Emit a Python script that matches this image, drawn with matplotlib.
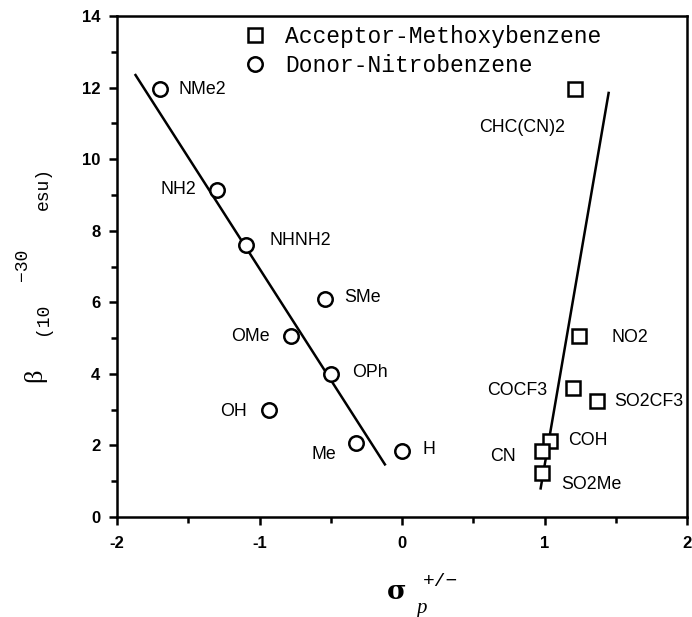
import matplotlib
matplotlib.use("Agg")
import matplotlib.pyplot as plt
from matplotlib.ticker import MultipleLocator, FixedLocator, FixedFormatter

# ---- data ----
donor_labels = ["NMe2", "NH2", "NHNH2", "SMe", "OMe", "OPh", "OH", "Me", "H"]
donor_sigma = [-1.70, -1.30, -1.095, -0.54, -0.78, -0.50, -0.93, -0.32, 0.00]
donor_beta = [11.96, 9.15, 7.59, 6.08, 5.06, 3.99, 2.98, 2.07, 1.84]

acceptor_labels = ["CHC(CN)2", "NO2", "COCF3", "SO2CF3", "COH", "CN", "SO2Me"]
acceptor_sigma = [1.215, 1.24, 1.20, 1.37, 1.04, 0.98, 0.985]
acceptor_beta = [11.95, 5.06, 3.61, 3.24, 2.12, 1.84, 1.24]

donor_fit_x = [-1.87, -0.12]
donor_fit_y = [12.35, 1.47]
acceptor_fit_x = [0.973, 1.45]
acceptor_fit_y = [0.80, 11.85]

x_ticks = [-2, -1, 0, 1, 2]
x_ticklabels = ["-2", "-1", "0", "1", "2"]
y_ticks = [0, 2, 4, 6, 8, 10, 12, 14]
y_ticklabels = ["0", "2", "4", "6", "8", "10", "12", "14"]

legend_labels = ["Acceptor-Methoxybenzene", "Donor-Nitrobenzene"]

# label placement (pixel offsets, alignment)
donor_offsets = [(19, 0, "left"), (-21, 0, "right"), (24, 5, "left"), (19, 2, "left"),
                 (-21, -1, "right"), (21, 2, "left"), (-23, -1, "right"),
                 (-20, -12, "right"), (20, 2, "left")]
acceptor_offsets = [(-53, -38, "center"), (33, -2, "left"), (-26, -3, "right"),
                    (17, 0, "left"), (18, 1, "left"), (-26, -5, "right"), (19, -12, "left")]

W, H = 692, 617
fig = plt.figure(figsize=(W / 100, H / 100), dpi=100)
ax = fig.add_axes([117 / W, 1 - 517 / H, 570 / W, 501 / H])

lw = 1.8
ms = 10.4
mew = 1.8

ax.plot(donor_fit_x, donor_fit_y, color="black", lw=lw)
ax.plot(acceptor_fit_x, acceptor_fit_y, color="black", lw=lw)
sq, = ax.plot(acceptor_sigma, acceptor_beta, ls="none", marker="s", ms=ms, mew=mew,
              mfc="white", mec="black", label=legend_labels[0])
ci, = ax.plot(donor_sigma, donor_beta, ls="none", marker="o", ms=ms, mew=mew,
              mfc="white", mec="black", label=legend_labels[1])

lab_font = dict(family="Liberation Sans", fontsize=12.8, color="black")
for lab, x, y, (dx, dy, ha) in zip(donor_labels, donor_sigma, donor_beta, donor_offsets):
    ax.annotate(lab, (x, y), xytext=(dx, dy), textcoords="offset pixels",
                ha=ha, va="center", **lab_font)
for lab, x, y, (dx, dy, ha) in zip(acceptor_labels, acceptor_sigma, acceptor_beta, acceptor_offsets):
    ax.annotate(lab, (x, y), xytext=(dx, dy), textcoords="offset pixels",
                ha=ha, va="center", **lab_font)

ax.set_xlim(-2, 2)
ax.set_ylim(0, 14)
ax.xaxis.set_major_locator(FixedLocator(x_ticks))
ax.xaxis.set_major_formatter(FixedFormatter(x_ticklabels))
ax.yaxis.set_major_locator(FixedLocator(y_ticks))
ax.yaxis.set_major_formatter(FixedFormatter(y_ticklabels))
ax.xaxis.set_minor_locator(MultipleLocator(0.5))
ax.yaxis.set_minor_locator(MultipleLocator(1))
ax.tick_params(which="major", direction="out", length=6, width=1.8)
ax.tick_params(which="minor", direction="out", length=4, width=1.8)
ax.tick_params(axis="x", which="major", pad=8)
ax.tick_params(axis="y", which="major", pad=6)
for t in ax.get_xticklabels() + ax.get_yticklabels():
    t.set_fontfamily("Liberation Sans")
    t.set_fontweight("bold")
    t.set_fontsize(12)
for s in ax.spines.values():
    s.set_linewidth(1.8)

leg = ax.legend(handles=[sq, ci], loc="upper left", bbox_to_anchor=(0.222, 0.982),
                frameon=False, borderpad=0, borderaxespad=0, handlelength=1.0,
                handletextpad=0.8, labelspacing=0.26,
                prop=dict(family="Liberation Mono", size=16.5))

# x label pieces
fig.text(396.7 / W, 1 - 591.7 / H, "σ", family="DejaVu Serif", fontweight="bold",
         fontsize=19, ha="center", va="center")
fig.text(440 / W, 1 - 581 / H, "+/\u2212", family="Liberation Mono", fontsize=14,
         ha="center", va="center")
fig.text(421.7 / W, 1 - 609 / H, "p", family="Liberation Serif", style="italic",
         fontsize=15, ha="center", va="center")

# y label pieces
fig.text(35 / W, 1 - 375 / H, "β", family="Liberation Serif", fontsize=19,
         rotation=90, ha="center", va="center")
fig.text(43 / W, 1 - 319 / H, "(10", family="Liberation Mono", fontsize=13,
         rotation=90, ha="center", va="center")
fig.text(23 / W, 1 - 265 / H, "\u221230", family="Liberation Mono", fontsize=13,
         rotation=90, ha="center", va="center")
fig.text(43 / W, 1 - 189 / H, "esu)", family="Liberation Mono", fontsize=13,
         rotation=90, ha="center", va="center")

fig.savefig("out.png", dpi=100)
